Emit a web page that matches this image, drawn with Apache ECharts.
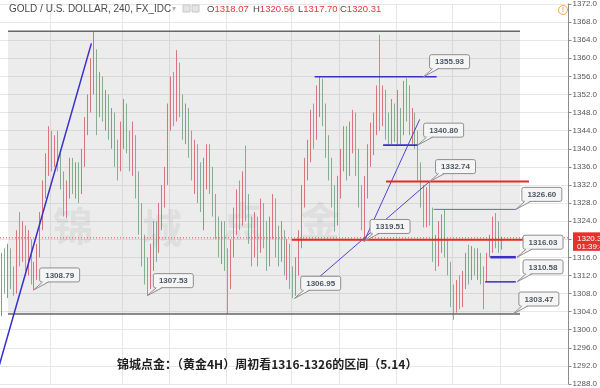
<!DOCTYPE html>
<html><head><meta charset="utf-8">
<script src="https://cdn.jsdelivr.net/npm/echarts@6/dist/echarts.min.js"></script>
<style>html,body{margin:0;padding:0;background:#fff}#c{width:600px;height:388px}</style>
</head><body><div id="c"></div>
<script>
// XAU/USD, 4-hour bars, oldest to newest
const opens = [
1306,1315,1310,1316,1311,1309,1320,1317,1322,1316,
1318,1311,1313,1318,1324,1331,1337,1341,1338,1341,
1337,1333,1327,1331,1336,1332,1335,1331,1338,1345,
1350,1358,1360,1352,1355,1349,1351,1345,1347,1340,
1337,1343,1348,1342,1338,1341,1333,1326,1318,1313,
1310,1316,1321,1318,1325,1330,1334,1347,1353,1348,
1356,1350,1345,1348,1341,1336,1339,1333,1330,1335,
1339,1333,1328,1323,1319,1322,1316,1312,1318,1324,
1329,1325,1332,1328,1322,1318,1323,1319,1326,1321,
1315,1322,1327,1320,1317,1321,1315,1318,1312,1309,
1314,1320,1330,1336,1340,1346,1344,1351,1353,1347,
1341,1336,1330,1325,1331,1338,1343,1337,1342,1346,
1338,1330,1326,1331,1338,1342,1345,1351,1347,1352,
1346,1342,1349,1343,1347,1344,1352,1350,1345,1347,
1342,1336,1330,1325,1329,1326,1318,1315,1321,1324,
1318,1313,1308,1305,1309,1306,1311,1315,1312,1316,
1313,1316,1312,1311,1316.5,1319,1323,1321,1318.07];
const closes = [
1315,1310,1316,1311,1309,1320,1317,1322,1316,1318,
1311,1313,1318,1324,1331,1337,1341,1338,1341,1337,
1333,1327,1331,1336,1332,1335,1331,1338,1345,1350,
1358,1360,1352,1355,1349,1351,1345,1347,1340,1337,
1343,1348,1342,1338,1341,1333,1326,1318,1313,1310,
1316,1321,1318,1325,1330,1334,1347,1353,1348,1356,
1350,1345,1348,1341,1336,1339,1333,1330,1335,1339,
1333,1328,1323,1319,1322,1316,1312,1318,1324,1329,
1325,1332,1328,1322,1318,1323,1319,1326,1321,1315,
1322,1327,1320,1317,1321,1315,1318,1312,1309,1314,
1320,1330,1336,1340,1346,1344,1351,1353,1347,1341,
1336,1330,1325,1331,1338,1343,1337,1342,1346,1338,
1330,1326,1331,1338,1342,1345,1351,1347,1352,1346,
1342,1349,1343,1347,1344,1352,1350,1345,1347,1342,
1336,1330,1325,1329,1326,1318,1315,1321,1324,1318,
1313,1308,1305,1309,1306,1311,1315,1312,1316,1313,
1316,1312,1311,1315,1319,1323,1321,1318.07,1320.31];
const lows = [
1303,1308,1307,1309,1307.5,1308,1314,1315,1313,1312,
1310,1308.79,1311,1316,1322,1329,1334,1335,1336,1335,
1331,1325,1324.7,1329,1330,1329,1328,1330,1336,1343,
1348,1352,1343,1347,1346,1344,1342,1340,1336,1333,
1335,1340,1339,1335,1334,1329,1321,1314,1310,1307.53,
1309,1313,1315,1317,1322,1327,1332,1344,1345,1346,
1347,1342,1341,1338,1333,1330,1328,1326,1322,1331,
1330,1325,1320,1316,1314.5,1313,1303.4,1309,1316,1321,
1322,1323,1324,1319,1314,1316,1314,1317,1318,1313,
1314,1320,1316,1314,1315,1312,1311,1309,1306.95,1307.5,
1312,1318,1327,1333,1337,1340,1342,1347,1345,1338,
1333,1327,1321.7,1323,1329,1335,1333,1334,1339,1334,
1327,1322,1319.51,1329,1336,1338.6,1343,1344,1345,1342,
1340.8,1341,1341.5,1341,1341,1343,1346,1343,1341,1340,
1333,1327,1322.6,1322.6,1323,1315,1313,1314,1317,1316,
1312,1305,1302.2,1303.8,1304.5,1305,1309,1310,1311,1312,
1311,1310,1304.5,1310.58,1316.03,1317,1318,1317,1317.70];
const highs = [
1317,1318,1319,1318,1314,1322,1326,1324,1323,1322,
1320,1315,1319,1326,1333,1339,1345,1344,1343,1344,
1339,1335,1333,1338,1338,1337,1337,1340,1347,1352,
1360,1365.9,1362,1357,1356,1353,1352,1349,1348,1342,
1346,1351,1350,1344,1346,1343,1335,1328,1321,1316,
1319,1324,1324,1328,1332,1336,1350,1356,1357,1361.8,
1359,1352,1350,1349,1344,1342,1341,1337,1338,1341,
1341,1336,1330,1325,1324,1324,1318,1320,1327,1331,
1333,1335,1340.7,1330,1325,1326,1325,1329,1328,1324,
1325,1330,1329,1323,1324,1322,1320,1319,1314,1316,
1322,1332,1338,1342,1348.6,1350,1354,1355.93,1355.5,1350,
1343,1338,1332,1334,1340,1345,1345,1346,1348.6,1348,
1340,1332,1334,1341,1345.8,1348,1354,1365.2,1354,1353,
1348,1351,1350,1353,1349,1355,1355.6,1354,1349,1348,
1344,1337,1332,1331.5,1332.74,1327,1321,1324,1325.5,1326.6,
1320,1315,1310,1311,1312,1313,1317,1318.8,1318.5,1318,
1318,1317,1314,1317,1321,1325,1325.8,1324,1320.56];

// empty slots to the right of the last bar
const slotCount = 191;
const dayBreaks = [17, 41, 57, 76, 98, 114, 133, 152, 168];

// last bar quote shown in the legend
const quoteKeys = ['O', 'H', 'L', 'C'];
const quoteVals = ['1318.07', '1320.56', '1317.70', '1320.31'];
const countdown = '01:39:4';

// marked levels: bar position, price
const calloutBars   = [10.8, 49, 98.5, 121.8, 141.8, 139.8, 143.8, 172.8, 173.2, 173.2, 171.8];
const calloutPrices = [1308.79, 1307.53, 1306.95, 1319.51, 1355.93, 1340.80, 1332.74, 1326.60, 1316.03, 1310.58, 1303.47];

// range channel
const channelTop = 1366.0, channelBottom = 1303.47;
const supportRed = 1319.9;

const title = 'GOLD / U.S. DOLLAR, 240, FX_IDC';
const caption = '锦城点金：（黄金4H）周初看1316-1326的区间（5.14）';
const watermark = ['锦', '城', '点', '金'];

const ohlc = opens.map((o, i) => [o, closes[i], lows[i], highs[i]]);
const cats = Array.from({length: slotCount}, (_, i) => String(i));

const chart = echarts.init(document.getElementById('c'), null, {renderer: 'canvas', width: 600, height: 388});
chart.setOption({
  animation: false,
  backgroundColor: '#ffffff',
  grid: {left: 0, width: 573, top: 0.2, height: 394.3},
  xAxis: {
    type: 'category', data: cats, boundaryGap: true,
    axisLine: {show: false}, axisTick: {show: false}, axisLabel: {show: false},
    splitLine: {show: true, interval: (i) => dayBreaks.includes(i), lineStyle: {color: '#e7e7e7', width: 1}}
  },
  yAxis: {
    type: 'value', position: 'right', min: 1288, max: 1372, interval: 4,
    axisLine: {show: true, lineStyle: {color: '#8c8c8c'}},
    axisTick: {show: true, length: 3, lineStyle: {color: '#8c8c8c'}},
    axisLabel: {formatter: v => v.toFixed(1), color: '#555', fontSize: 8, margin: 4, fontFamily: 'Liberation Sans'},
    splitLine: {lineStyle: {color: '#e7e7e7', width: 1}}
  },
  series: [{
    type: 'candlestick', data: ohlc, barWidth: 1.2, z: 3,
    itemStyle: {color: '#dc8088', color0: '#8db39a', borderColor: '#d9747d', borderColor0: '#86ad94', borderWidth: 1}
  }]
});

const a0 = chart.convertToPixel({gridIndex: 0}, [0, 1300]);
const a1 = chart.convertToPixel({gridIndex: 0}, [1, 1300]);
function px(idx, price) {
  const y = chart.convertToPixel({gridIndex: 0}, [0, price])[1];
  return [a0[0] + idx * (a1[0] - a0[0]), y];
}

const els = [];
function seg(i1, p1, i2, p2, color, width, z, dash) {
  const A = px(i1, p1), B = px(i2, p2);
  els.push({type: 'line', silent: true, z: z || 10,
    shape: {x1: A[0], y1: A[1], x2: B[0], y2: B[1]},
    style: {stroke: color, lineWidth: width, lineDash: dash || null}});
}

// channel background and borders
const cTL = px(2.2, channelTop), cBR = px(174.2, channelBottom);
els.push({type: 'rect', silent: true, z: 1,
  shape: {x: cTL[0], y: cTL[1], width: cBR[0] - cTL[0], height: cBR[1] - cTL[1]},
  style: {fill: 'rgba(150,150,150,0.18)'}});
seg(2.2, channelTop, 174.2, channelTop, '#666', 1.5, 6);
seg(2.2, channelBottom, 174.2, channelBottom, '#666', 1.5, 6);

// watermark
const wmPos = [[24, 1323], [54, 1322.5], [81, 1324], [107, 1324]];
watermark.forEach((ch, k) => {
  const p = px(wmPos[k][0], wmPos[k][1]);
  els.push({type: 'text', silent: true, z: 2, x: p[0], y: p[1],
    style: {text: ch, fill: 'rgba(110,110,110,0.10)', font: 'bold 40px "Noto Sans CJK SC"',
      textAlign: 'center', verticalAlign: 'middle',
      shadowBlur: 4, shadowColor: 'rgba(110,110,110,0.25)'}});
});

// last price line
const lastPrice = closes[closes.length - 1];
seg(-0.5, lastPrice, slotCount - 0.5, lastPrice, '#e04848', 1, 4, [1, 2]);

// trend lines and levels
const blue = '#3a2fc6';
seg(-1.9, 1289.5, 30.2, 1363.3, blue, 1.5, 8);
seg(105.2, 1355.93, 146.2, 1355.93, blue, 1.6, 8);
seg(128.2, 1340.80, 139.8, 1340.80, blue, 1.6, 8);
seg(98.5, 1306.95, 143.8, 1332.74, '#4d43d2', 1, 8);
seg(121.8, 1319.51, 140.5, 1346.5, '#4d43d2', 1, 8);
seg(129.2, 1332.74, 177.2, 1332.74, '#e52b25', 2, 8);
seg(97.5, supportRed, 175.5, supportRed, '#e52b25', 2, 8);
seg(145.2, 1326.60, 172.8, 1326.60, '#6a5fd8', 1, 8);
seg(164.2, 1316.03, 172.8, 1316.03, blue, 2.5, 8);
seg(162.5, 1310.58, 172.8, 1310.58, blue, 1.5, 8);

// callout labels
calloutPrices.forEach((v, k) => {
  const [tx, ty] = px(calloutBars[k], v);
  const bx = tx + 6, by = ty - 22, bw = 40, bh = 14;
  els.push({type: 'rect', silent: true, z: 20,
    shape: {x: bx, y: by, width: bw, height: bh, r: 2},
    style: {fill: '#f5f5f5', stroke: '#8e8e8e', lineWidth: 1}});
  els.push({type: 'polygon', silent: true, z: 21,
    shape: {points: [[bx + 3, by + bh - 1], [bx + 9, by + bh - 1], [tx, ty]]},
    style: {fill: '#f5f5f5'}});
  els.push({type: 'polyline', silent: true, z: 22,
    shape: {points: [[bx + 3, by + bh], [tx, ty], [bx + 9, by + bh]]},
    style: {stroke: '#8e8e8e', lineWidth: 1, fill: null}});
  els.push({type: 'text', silent: true, z: 23, x: bx + bw / 2, y: by + bh / 2 + 0.5,
    style: {text: v.toFixed(2), fill: '#4d5864', font: 'bold 8px "Liberation Sans"',
      textAlign: 'center', verticalAlign: 'middle'}});
});

// price box on the axis
const ly = px(0, lastPrice)[1];
els.push({type: 'rect', silent: true, z: 30, shape: {x: 573, y: ly - 5.5, width: 27, height: 18.5},
  style: {fill: '#e8302c'}});
els.push({type: 'text', silent: true, z: 31, x: 577, y: ly + 0.5,
  style: {text: lastPrice.toFixed(2), fill: '#fff', font: '8px "Liberation Sans"', verticalAlign: 'middle'}});
els.push({type: 'text', silent: true, z: 31, x: 577, y: ly + 8.5,
  style: {text: countdown, fill: '#fff', font: '8px "Liberation Sans"', verticalAlign: 'middle'}});

// legend header
els.push({type: 'text', silent: true, z: 40, x: 9, y: 9,
  style: {text: title, fill: '#4a4a4a', font: '10px "Liberation Sans"', verticalAlign: 'middle'}});
els.push({type: 'text', silent: true, z: 40, x: 172, y: 9,
  style: {text: '▾', fill: '#b0b0b0', font: '8px "DejaVu Sans"', verticalAlign: 'middle'}});
els.push({type: 'rect', silent: true, z: 40, shape: {x: 183, y: 5, width: 7, height: 7},
  style: {fill: '#e4e4e4', stroke: '#c8c8c8', lineWidth: 1}});
els.push({type: 'rect', silent: true, z: 40, shape: {x: 192, y: 5, width: 7, height: 7},
  style: {fill: '#e4e4e4', stroke: '#c8c8c8', lineWidth: 1}});
const qx = [207, 253, 298, 340];
quoteKeys.forEach((k, i) => {
  els.push({type: 'text', silent: true, z: 40, x: qx[i], y: 9,
    style: {rich: {a: {fill: '#4a4a4a', font: '9.5px "Liberation Sans"'}, b: {fill: '#e03a36', font: '9.5px "Liberation Sans"'}},
      text: '{a|' + k + '}{b|' + quoteVals[i] + '}', verticalAlign: 'middle'}});
});
// alert icon
els.push({type: 'circle', silent: true, z: 40, shape: {cx: 563, cy: 10, r: 4.5},
  style: {fill: 'none', stroke: '#f0a858', lineWidth: 1}});
els.push({type: 'text', silent: true, z: 41, x: 563, y: 10.5,
  style: {text: '!', fill: '#f0a858', font: 'bold 7px "Liberation Sans"', textAlign: 'center', verticalAlign: 'middle'}});

// caption
els.push({type: 'text', silent: true, z: 40, x: 117, y: 364,
  style: {text: caption, fill: '#1e1e1e', font: 'bold 12px "Noto Sans CJK SC"', verticalAlign: 'middle'}});

chart.setOption({graphic: {elements: els}});
</script></body></html>
